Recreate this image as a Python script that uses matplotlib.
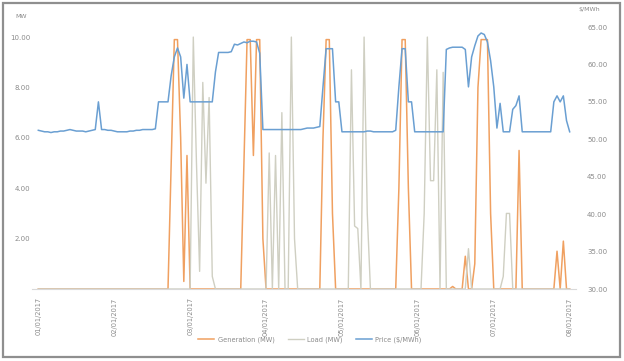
import matplotlib
matplotlib.use("Agg")
import matplotlib.pyplot as plt
from matplotlib.patches import Rectangle

# hourly values, 01/01/2017 00:00 .. 08/01/2017 00:00
hours = list(range(169))

generation = [
	0, 0, 0, 0, 0, 0, 0, 0, 0, 0, 0, 0, 0, 0, 0, 0, 0, 0, 0, 0, 0, 0, 0, 0,
	0, 0, 0, 0, 0, 0, 0, 0, 0, 0, 0, 0, 0, 0, 0, 0, 0, 0, 5.0, 9.9, 9.9, 6.0, 0.3, 5.3,
	0, 0, 0, 0, 0, 0, 0, 0, 0, 0, 0, 0, 0, 0, 0, 0, 0, 5.0, 9.9, 9.9, 5.3, 9.9, 9.9, 2.0,
	0, 0, 0, 0, 0, 0, 0, 0, 0, 0, 0, 0, 0, 0, 0, 0, 0, 0, 6.0, 9.9, 9.9, 3.0, 0, 0,
	0, 0, 0, 0, 0, 0, 0, 0, 0, 0, 0, 0, 0, 0, 0, 0, 0, 0, 4.0, 9.9, 9.9, 4.0, 0, 0,
	0, 0, 0, 0, 0, 0, 0, 0, 0, 0, 0, 0.1, 0, 0, 0, 1.3, 0, 0, 1.0, 8.0, 9.9, 9.9, 9.9, 3.0,
	0, 0, 0, 0, 0, 0, 0, 0, 5.5, 0, 0, 0, 0, 0, 0, 0, 0, 0, 0, 0, 1.5, 0, 1.9, 0,
	0,
]

load = [
	0, 0, 0, 0, 0, 0, 0, 0, 0, 0, 0, 0, 0, 0, 0, 0, 0, 0, 0, 0, 0, 0, 0, 0,
	0, 0, 0, 0, 0, 0, 0, 0, 0, 0, 0, 0, 0, 0, 0, 0, 0, 0, 0, 0, 0, 0, 0, 0,
	0, 10.0, 5.0, 0.7, 8.2, 4.2, 7.6, 0.5, 0, 0, 0, 0, 0, 0, 0, 0, 0, 0, 0, 0, 0, 0, 0, 0,
	0, 5.4, 0, 5.3, 0, 7.0, 0, 0, 10.0, 2.0, 0, 0, 0, 0, 0, 0, 0, 0, 0, 0, 0, 0, 0, 0,
	0, 0, 0, 8.7, 2.5, 2.4, 0, 10.0, 3.0, 0, 0, 0, 0, 0, 0, 0, 0, 0, 0, 0, 0, 0, 0, 0,
	0, 0, 3.0, 10.0, 4.3, 4.3, 8.7, 0, 8.6, 0, 0, 0, 0, 0, 0, 0, 1.6, 0, 0, 0, 0, 0, 0, 0,
	0, 0, 0, 0.5, 3.0, 3.0, 0, 0, 0, 0, 0, 0, 0, 0, 0, 0, 0, 0, 0, 0, 0, 0, 0, 0,
	0,
]

price = [
	51.2, 51.1, 51.0, 51.0, 50.9, 51.0, 51.0, 51.1, 51.1, 51.2, 51.3, 51.2, 51.1, 51.1, 51.1, 51.0, 51.1, 51.2, 51.3, 55.0, 51.3, 51.3, 51.2, 51.2,
	51.1, 51.0, 51.0, 51.0, 51.0, 51.1, 51.1, 51.2, 51.2, 51.3, 51.3, 51.3, 51.3, 51.4, 55.0, 55.0, 55.0, 55.0, 58.5, 61.0, 62.2, 61.0, 55.5, 60.0,
	55.0, 55.0, 55.0, 55.0, 55.0, 55.0, 55.0, 55.0, 59.0, 61.6, 61.6, 61.6, 61.6, 61.7, 62.7, 62.6, 62.8, 63.0, 62.9, 63.1, 63.1, 63.0, 61.5, 51.3,
	51.3, 51.3, 51.3, 51.3, 51.3, 51.3, 51.3, 51.3, 51.3, 51.3, 51.3, 51.3, 51.4, 51.5, 51.5, 51.5, 51.6, 51.7, 57.0, 62.1, 62.1, 62.1, 55.0, 55.0,
	51.0, 51.0, 51.0, 51.0, 51.0, 51.0, 51.0, 51.0, 51.1, 51.1, 51.0, 51.0, 51.0, 51.0, 51.0, 51.0, 51.0, 51.2, 57.0, 62.1, 62.1, 55.0, 55.0, 51.0,
	51.0, 51.0, 51.0, 51.0, 51.0, 51.0, 51.0, 51.0, 51.0, 62.0, 62.2, 62.3, 62.3, 62.3, 62.3, 62.0, 57.0, 61.0, 62.5, 63.8, 64.2, 64.0, 63.0, 60.5,
	57.0, 51.5, 54.8, 51.0, 51.0, 51.0, 54.0, 54.5, 55.8, 51.0, 51.0, 51.0, 51.0, 51.0, 51.0, 51.0, 51.0, 51.0, 51.0, 55.0, 55.8, 55.0, 55.8, 52.5,
	51.0,
]

date_ticks = [0, 24, 48, 72, 96, 120, 144, 168]
date_labels = ["01/01/2017", "02/01/2017", "03/01/2017", "04/01/2017",
	"05/01/2017", "06/01/2017", "07/01/2017", "08/01/2017"]

left_ticks = [2, 4, 6, 8, 10]
right_ticks = [30, 35, 40, 45, 50, 55, 60, 65]

ORANGE = '#f0a060'
GREY = '#cfcfc2'
BLUE = '#6a9fd2'
TXT = '#8a8a8a'

fig = plt.figure(figsize=(6.24, 3.61), dpi=100)
W, H = 624, 361
ax = fig.add_axes([32 / W, 1 - 289 / H, 544 / W, 262 / H])
ax2 = ax.twinx()

l1, = ax.plot(hours, generation, color=ORANGE, lw=1.1, label='Generation (MW)')
l2, = ax.plot(hours, load, color=GREY, lw=1.0, label='Load (MW)')
l3, = ax2.plot(hours, price, color=BLUE, lw=1.1, label='Price ($/MWh)')

ax.set_xlim(-2, 170)
ax.set_ylim(0, 10.4)
ax2.set_ylim(30, 65)

ax.set_xticks(date_ticks)
ax.set_xticklabels(date_labels, rotation=90, fontsize=4.8, color=TXT)
ax.set_yticks(left_ticks)
ax.set_yticklabels([f"{v:.2f}" for v in left_ticks], fontsize=5, color=TXT)
ax2.set_yticks(right_ticks)
ax2.set_yticklabels([f"{v:.2f}" for v in right_ticks], fontsize=5, color=TXT)

for a in (ax, ax2):
	for s in a.spines.values():
		s.set_visible(False)
	a.tick_params(length=0)
ax.tick_params(axis='y', pad=1)
ax.tick_params(axis='x', pad=6)
ax2.tick_params(axis='y', pad=8)
ax.spines['bottom'].set_visible(True)
ax.spines['bottom'].set_color('#d9d9d9')
ax.spines['bottom'].set_linewidth(0.8)

fig.text(15 / W, 1 - 16 / H, 'MW', fontsize=4.5, color=TXT, va='center')
fig.text(578 / W, 1 - 10 / H, '$/MWh', fontsize=4.5, color=TXT, va='center')

fig.legend(handles=[l1, l2, l3], loc='center', bbox_to_anchor=(310 / W, 1 - 340 / H),
	ncol=3, frameon=False, fontsize=4.8, handlelength=2.4, columnspacing=2.0,
	handletextpad=0.5, labelcolor=TXT)

fig.patches.append(Rectangle((3 / W, 1 - 357 / H), 617 / W, 354 / H, transform=fig.transFigure,
	fill=False, edgecolor='#8f8f8f', lw=1.6))

fig.savefig('out.png', dpi=100)
